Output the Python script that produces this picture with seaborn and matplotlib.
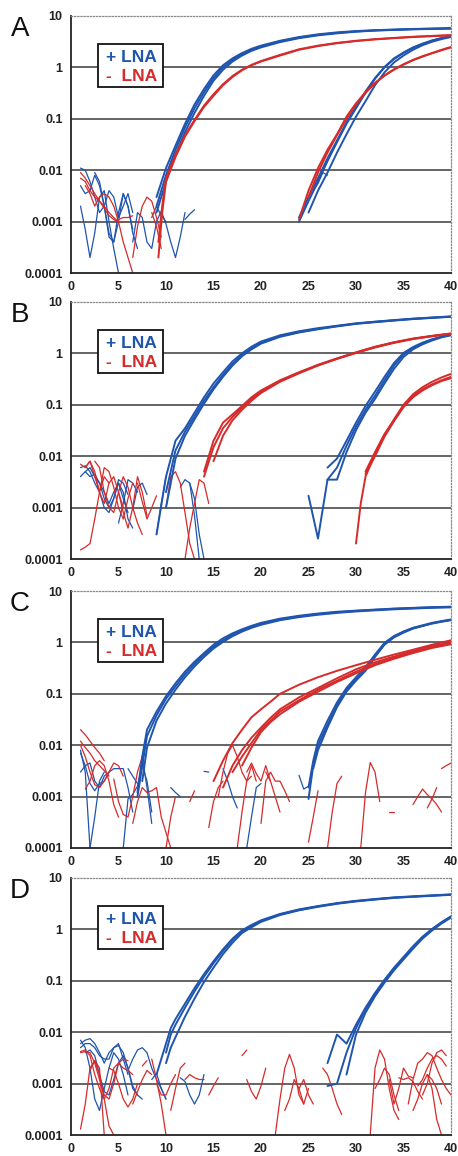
"""Four-panel qPCR amplification plot: + LNA (blue) vs - LNA (red)."""

import matplotlib

matplotlib.use("Agg")
import matplotlib.pyplot as plt
import matplotlib.ticker as mticker
import pandas as pd
import seaborn as sns
from matplotlib.patches import Rectangle

BLUE = "#1f55ae"
RED = "#d52b2b"
NOISE_STEP = 0.5

PANELS = ["A", "B", "C", "D"]
X_TICKS = [0, 5, 10, 15, 20, 25, 30, 35, 40]
Y_TICKS = [0.0001, 0.001, 0.01, 0.1, 1, 10]
Y_LABELS = ["0.0001", "0.001", "0.01", "0.1", "1", "10"]
GRID_LEVELS = [0.001, 0.01, 0.1, 1]
LEGEND_PLUS = "+ LNA"
LEGEND_MINUS = "-  LNA"

# ---------------- panel A ----------------
A_BLUE_EARLY_X = [9, 10, 11, 12, 13, 14, 15, 16, 17, 18, 19, 20, 22, 24, 26, 28, 30, 32, 34, 36, 38, 40]
A_BLUE_EARLY = [
    [0.003, 0.011, 0.03, 0.08, 0.19, 0.38, 0.7, 1.1, 1.5, 1.9, 2.3, 2.65, 3.3, 3.9, 4.4, 4.8, 5.1, 5.3, 5.45, 5.6, 5.7, 5.8],
    [0.002, 0.008, 0.025, 0.068, 0.16, 0.33, 0.62, 1.0, 1.4, 1.8, 2.2, 2.55, 3.2, 3.8, 4.3, 4.7, 5.0, 5.25, 5.4, 5.55, 5.65, 5.75],
    [0.0015, 0.006, 0.02, 0.055, 0.13, 0.28, 0.55, 0.9, 1.3, 1.7, 2.1, 2.45, 3.1, 3.7, 4.2, 4.6, 4.95, 5.2, 5.35, 5.5, 5.6, 5.7],
]
A_RED_EARLY_X = [9.2, 9.6, 10, 11, 12, 13, 14, 15, 16, 17, 18, 19, 20, 22, 24, 26, 28, 30, 32, 34, 36, 38, 40]
A_RED_EARLY = [
    [0.0002, 0.0015, 0.006, 0.018, 0.045, 0.09, 0.17, 0.28, 0.45, 0.65, 0.88, 1.1, 1.3, 1.7, 2.2, 2.6, 2.95, 3.25, 3.5, 3.7, 3.9, 4.05, 4.2],
    [0.0004, 0.002, 0.007, 0.02, 0.048, 0.095, 0.18, 0.3, 0.47, 0.68, 0.9, 1.12, 1.33, 1.75, 2.25, 2.65, 3.0, 3.3, 3.55, 3.75, 3.95, 4.1, 4.25],
]
A_LATE_X = [24, 25, 26, 27, 28, 29, 30, 31, 32, 33, 34, 35, 36, 37, 38, 39, 40]
A_BLUE_LATE = [
    [0.001, 0.0025, 0.006, 0.015, 0.035, 0.08, 0.16, 0.32, 0.6, 1.0, 1.45, 1.9, 2.4, 2.85, 3.3, 3.7, 4.0],
    [0.0012, 0.003, 0.007, 0.017, 0.038, 0.085, 0.17, 0.34, 0.62, 1.02, 1.5, 1.95, 2.45, 2.9, 3.35, 3.72, 4.05],
    [None, 0.0015, 0.004, 0.009, 0.022, 0.05, 0.11, 0.22, 0.45, 0.8, 1.25, 1.7, 2.2, 2.7, 3.15, 3.55, 3.9],
]
A_RED_LATE = [
    [0.0011, 0.004, 0.011, 0.025, 0.05, 0.11, 0.2, 0.33, 0.5, 0.7, 0.92, 1.15, 1.4, 1.65, 1.9, 2.2, 2.5],
    [None, 0.003, 0.009, 0.022, 0.048, 0.1, 0.19, 0.32, 0.49, 0.69, 0.9, 1.13, 1.38, 1.62, 1.88, 2.15, 2.45],
]
A_BLUE_NOISE = [
    (1.0, [0.002, 0.0007, 0.0002, 0.0006, 0.003, 0.004, 0.001, 0.0003, 0.0001]),
    (1.0, [0.011, 0.01, 0.006, 0.003, 0.0015, 0.002, 0.004, 0.003, 0.0012, 0.002, 0.0035, 0.0015]),
    (1.0, [0.005, 0.0035, 0.004, 0.008, 0.005, 0.002, 0.0006, 0.0004, 0.001, 0.0035, 0.002, 0.0006, 0.0003]),
    (2.5, [0.009, 0.006, 0.002, 0.0005, 0.0004, 0.0015, 0.0035, 0.002, 0.0007]),
    (6.5, [0.0004, 0.0015, 0.0012, 0.0004, 0.0003, 0.001, 0.0016, 0.0009, 0.0004, 0.0002, 0.0005, 0.0015]),
    (8.5, [0.0012, 0.002, 0.0013, 0.001]),
    (12.0, [0.0011, 0.0014, 0.0017]),
    (25.5, [0.004, 0.0055, 0.009, 0.008]),
]
A_RED_NOISE = [
    (1.0, [0.009, 0.007, 0.005, 0.0035, 0.0025, 0.0018, 0.0013, 0.0011, 0.001, 0.001, 0.001]),
    (1.0, [0.007, 0.006, 0.004, 0.003, 0.0025, 0.002, 0.0015, 0.0012, 0.001]),
    (1.5, [0.005, 0.0035, 0.002, 0.003, 0.0035, 0.003, 0.002, 0.001, 0.0004, 0.0002, 0.0001]),
    (4.5, [0.001, 0.0011, 0.0012, 0.0012, 0.0013]),
    (6.5, [0.0002, 0.0008, 0.002, 0.003, 0.0025, 0.0012, 0.0005]),
    (8.5, [0.0015, 0.0008, 0.0003]),
]

# ---------------- panel B ----------------
B_BLUE_EARLY_X = [9, 10, 11, 12, 13, 14, 15, 16, 17, 18, 19, 20, 22, 24, 26, 28, 30, 32, 34, 36, 38, 40]
B_BLUE_EARLY = [
    [0.0003, 0.004, 0.02, 0.035, 0.07, 0.14, 0.26, 0.43, 0.7, 1.0, 1.35, 1.7, 2.25, 2.7, 3.1, 3.45, 3.85, 4.15, 4.45, 4.75, 5.0, 5.25],
    [None, 0.002, 0.013, 0.03, 0.06, 0.12, 0.22, 0.38, 0.62, 0.92, 1.25, 1.6, 2.15, 2.6, 3.0, 3.4, 3.8, 4.1, 4.4, 4.7, 4.95, 5.2],
    [None, 0.001, 0.009, 0.025, 0.052, 0.105, 0.2, 0.35, 0.58, 0.88, 1.2, 1.55, 2.1, 2.55, 2.95, 3.35, 3.75, 4.05, 4.35, 4.65, 4.9, 5.15],
]
B_RED_EARLY_X = [14, 15, 16, 17, 18, 19, 20, 22, 24, 26, 28, 30, 32, 34, 36, 38, 40]
B_RED_EARLY = [
    [0.005, 0.02, 0.045, 0.065, 0.095, 0.14, 0.19, 0.3, 0.43, 0.6, 0.8, 1.05, 1.35, 1.65, 1.95, 2.2, 2.45],
    [0.004, 0.015, 0.035, 0.058, 0.088, 0.13, 0.18, 0.29, 0.42, 0.59, 0.79, 1.03, 1.33, 1.63, 1.92, 2.18, 2.42],
    [None, 0.008, 0.025, 0.05, 0.08, 0.12, 0.17, 0.28, 0.41, 0.58, 0.78, 1.02, 1.3, 1.6, 1.9, 2.15, 2.4],
]
B_BLUE_LATE_X = [25, 26, 27, 28, 29, 30, 31, 32, 33, 34, 35, 36, 37, 38, 39, 40]
B_BLUE_LATE = [
    [0.0017, 0.00025, 0.0035, 0.006, 0.016, 0.038, 0.08, 0.15, 0.3, 0.58, 0.95, 1.28, 1.58, 1.85, 2.1, 2.3],
    [None, None, 0.006, 0.009, 0.02, 0.045, 0.095, 0.18, 0.35, 0.65, 1.02, 1.33, 1.62, 1.88, 2.12, 2.32],
    [None, None, 0.0035, 0.0035, 0.012, 0.032, 0.07, 0.13, 0.26, 0.5, 0.85, 1.2, 1.5, 1.78, 2.05, 2.25],
]
B_RED_LATE_X = [30, 30.5, 31, 32, 33, 34, 35, 36, 37, 38, 39, 40]
B_RED_LATE = [
    [0.0002, 0.0012, 0.004, 0.011, 0.026, 0.052, 0.1, 0.16, 0.22, 0.28, 0.34, 0.4],
    [None, None, 0.005, 0.012, 0.027, 0.05, 0.095, 0.15, 0.2, 0.25, 0.3, 0.35],
    [None, None, 0.0045, 0.01, 0.024, 0.048, 0.09, 0.14, 0.19, 0.24, 0.29, 0.33],
]
B_BLUE_NOISE = [
    (1.0, [0.004, 0.005, 0.006, 0.004, 0.003, 0.0015, 0.001, 0.0015, 0.003, 0.002, 0.0006, 0.0004]),
    (1.0, [0.006, 0.0065, 0.005, 0.003, 0.002, 0.001, 0.0008, 0.0015, 0.0035, 0.003, 0.0018]),
    (1.5, [0.005, 0.004, 0.0045, 0.003, 0.002, 0.0012, 0.002, 0.003, 0.0015, 0.0008]),
    (5.0, [0.0005, 0.0012, 0.0035, 0.003, 0.002]),
    (6.5, [0.0009, 0.0025, 0.003, 0.0018]),
    (9.0, [0.0003, 0.0012, 0.004]),
    (11.5, [0.0025, 0.0035, 0.003, 0.0007, 0.0001]),
    (12.5, [0.003, 0.0015, 0.0003, 0.0001]),
]
B_RED_NOISE = [
    (1.0, [0.00015, 0.00017, 0.0002, 0.0006, 0.002, 0.004, 0.003]),
    (1.0, [0.007, 0.006, 0.008, 0.005, 0.002, 0.0012, 0.003, 0.004, 0.002, 0.001]),
    (1.5, [0.006, 0.008, 0.004, 0.002, 0.006, 0.005, 0.0025, 0.001, 0.0006, 0.0015, 0.003]),
    (2.5, [0.008, 0.006, 0.002, 0.001, 0.0008, 0.002, 0.004, 0.0025, 0.001, 0.0005, 0.0003]),
    (5.0, [0.002, 0.0008, 0.0004, 0.001, 0.004, 0.002, 0.0007]),
    (7.0, [0.003, 0.0013, 0.0006, 0.001, 0.0017]),
    (10.0, [0.001, 0.004, 0.005, 0.003, 0.0008, 0.0002, 0.0001]),
    (12.0, [0.0001, 0.0004, 0.0012, 0.0035, 0.003, 0.0012]),
]

# ---------------- panel C ----------------
C_BLUE_EARLY_X = [7, 7.5, 8, 9, 10, 11, 12, 13, 14, 15, 16, 17, 18, 19, 20, 22, 24, 26, 28, 30, 32, 34, 36, 38, 40]
C_BLUE_EARLY = [
    [0.0012, 0.006, 0.02, 0.045, 0.09, 0.16, 0.27, 0.42, 0.62, 0.9, 1.2, 1.5, 1.8, 2.1, 2.4, 2.9, 3.3, 3.65, 3.95, 4.15, 4.35, 4.55, 4.7, 4.85, 4.95],
    [0.001, 0.004, 0.015, 0.038, 0.08, 0.14, 0.24, 0.38, 0.57, 0.83, 1.1, 1.4, 1.7, 2.0, 2.3, 2.8, 3.2, 3.55, 3.85, 4.1, 4.3, 4.5, 4.65, 4.8, 4.9],
    [None, 0.002, 0.009, 0.03, 0.065, 0.12, 0.21, 0.34, 0.52, 0.76, 1.02, 1.32, 1.62, 1.92, 2.2, 2.7, 3.1, 3.45, 3.75, 4.0, 4.2, 4.4, 4.55, 4.7, 4.8],
]
C_RED_EARLY_X = [15, 16, 17, 18, 19, 20, 21, 22, 24, 26, 28, 30, 32, 34, 36, 38, 40]
C_RED_EARLY = [
    [0.002, 0.005, 0.011, 0.02, 0.035, 0.05, 0.07, 0.1, 0.15, 0.21, 0.28, 0.36, 0.46, 0.58, 0.72, 0.9, 1.1],
    [None, 0.0015, 0.004, 0.008, 0.014, 0.022, 0.034, 0.05, 0.085, 0.13, 0.2, 0.3, 0.41, 0.53, 0.68, 0.85, 1.0],
    [None, None, 0.003, 0.006, 0.011, 0.02, 0.03, 0.045, 0.075, 0.12, 0.18, 0.27, 0.38, 0.5, 0.65, 0.8, 0.95],
    [None, None, None, 0.004, 0.009, 0.018, 0.028, 0.04, 0.07, 0.11, 0.17, 0.25, 0.36, 0.48, 0.62, 0.78, 0.92],
]
C_BLUE_LATE_X = [25, 25.5, 26, 27, 28, 29, 30, 31, 32, 33, 34, 35, 36, 37, 38, 39, 40]
C_BLUE_LATE = [
    [0.0009, 0.004, 0.01, 0.025, 0.06, 0.12, 0.19, 0.3, 0.55, 0.95, 1.3, 1.6, 1.9, 2.1, 2.35, 2.55, 2.75],
    [0.0015, 0.005, 0.012, 0.03, 0.068, 0.13, 0.21, 0.33, 0.58, 0.98, 1.33, 1.63, 1.92, 2.15, 2.4, 2.6, 2.8],
    [None, 0.0035, 0.008, 0.022, 0.055, 0.11, 0.18, 0.28, 0.52, 0.9, 1.25, 1.55, 1.85, 2.08, 2.32, 2.52, 2.7],
]
C_BLUE_NOISE = [
    (1.0, [0.008, 0.003, 0.0001]),
    (1.0, [0.007, 0.004, 0.0018, 0.0013, 0.0018, 0.002, 0.003, 0.0035, 0.0035, 0.0035, 0.0015, 0.0005]),
    (1.0, [0.003, 0.004, 0.0045, 0.002, 0.0015, 0.0025, 0.003]),
    (2.0, [0.0001, 0.0004, 0.002, 0.003]),
    (5.5, [0.0001, 0.0009, 0.0011, 0.0016, 0.004, 0.002, 0.0005]),
    (6.0, [0.0035, 0.0025, 0.0018]),
    (7.5, [0.006, 0.0015, 0.0003]),
    (10.5, [0.0015, 0.0012, 0.001]),
    (14.0, [0.0031, 0.003]),
    (16.0, [0.0035, 0.002, 0.001, 0.0006]),
    (18.5, [0.0001, 0.0004, 0.0015, 0.0018]),
    (24.0, [0.0026, 0.0014, 0.0016]),
]
C_RED_NOISE = [
    (1.0, [0.02, 0.016, 0.012, 0.009, 0.007, 0.005]),
    (1.0, [0.012, 0.009, 0.007, 0.005, 0.004, 0.0032, 0.0025]),
    (1.0, [0.01, 0.006, 0.003, 0.0017, 0.0015, 0.002, 0.003, 0.0045, 0.004, 0.0025]),
    (1.5, [0.0014, 0.002, 0.004, 0.005, 0.004, 0.002, 0.0007, 0.0004]),
    (4.5, [0.0022, 0.0008, 0.00045, 0.0004, 0.001, 0.003, 0.006]),
    (6.5, [0.0003, 0.0008, 0.0015, 0.0012, 0.0013, 0.0015, 0.0004, 0.0002, 0.0001]),
    (10.0, [0.0001, 0.0004, 0.001]),
    (12.5, [0.0008, 0.0013]),
    (14.5, [0.00025, 0.0008, 0.0015, 0.002]),
    (15.5, [0.001, 0.003, 0.007, 0.01, 0.006, 0.003, 0.002, 0.004, 0.002]),
    (17.5, [0.0001, 0.0005, 0.002, 0.0025]),
    (18.5, [0.003, 0.0045, 0.0028, 0.002, 0.004, 0.002]),
    (20.0, [0.0003, 0.002, 0.003, 0.002, 0.002, 0.0013, 0.0008]),
    (20.5, [0.003, 0.002, 0.001, 0.0005]),
    (25.0, [0.00013, 0.0004, 0.0013]),
    (27.0, [0.0001, 0.0005, 0.0018, 0.0025]),
    (30.5, [0.0001, 0.0012, 0.0046, 0.003, 0.0008]),
    (33.5, [0.0005, 0.0005]),
    (36.0, [0.0007, 0.001, 0.0014, 0.0011, 0.0009, 0.0007, 0.0005]),
    (37.5, [0.0006, 0.0009, 0.0015]),
    (39.0, [0.0035, 0.004, 0.0045]),
]

# ---------------- panel D ----------------
D_BLUE_EARLY_X = [9, 10, 10.5, 11, 12, 13, 14, 15, 16, 17, 18, 19, 20, 22, 24, 26, 28, 30, 32, 34, 36, 38, 40]
D_BLUE_EARLY = [
    [0.0015, 0.006, 0.012, 0.018, 0.036, 0.072, 0.135, 0.24, 0.41, 0.66, 0.96, 1.22, 1.5, 2.0, 2.45, 2.85, 3.25, 3.6, 3.9, 4.2, 4.4, 4.6, 4.8],
    [None, 0.004, 0.009, 0.014, 0.03, 0.062, 0.12, 0.22, 0.38, 0.62, 0.92, 1.18, 1.46, 1.96, 2.4, 2.8, 3.2, 3.55, 3.85, 4.15, 4.35, 4.55, 4.75],
    [None, 0.0025, 0.005, 0.008, 0.02, 0.045, 0.095, 0.18, 0.33, 0.55, 0.85, 1.1, 1.4, 1.9, 2.35, 2.75, 3.15, 3.5, 3.8, 4.1, 4.3, 4.5, 4.7],
]
D_BLUE_LATE_X = [27, 28, 29, 30, 31, 32, 33, 34, 35, 36, 37, 38, 39, 40]
D_BLUE_LATE = [
    [0.0009, 0.001, 0.004, 0.012, 0.028, 0.055, 0.1, 0.17, 0.28, 0.45, 0.7, 1.0, 1.35, 1.75],
    [None, None, 0.0015, 0.009, 0.024, 0.05, 0.092, 0.16, 0.26, 0.42, 0.66, 0.95, 1.3, 1.7],
    [0.0025, 0.009, 0.006, 0.014, 0.03, 0.058, 0.105, 0.18, 0.29, 0.47, 0.72, 1.02, 1.38, 1.8],
]
D_BLUE_NOISE = [
    (1.0, [0.007, 0.005, 0.002, 0.0005, 0.0003, 0.0008, 0.002, 0.004, 0.003, 0.0015, 0.0006]),
    (1.0, [0.006, 0.007, 0.0075, 0.006, 0.004, 0.0025, 0.004, 0.005, 0.0055, 0.004, 0.002, 0.0008, 0.0006]),
    (1.0, [0.005, 0.006, 0.006, 0.005, 0.0035, 0.003, 0.003, 0.005, 0.006, 0.003, 0.0015]),
    (1.5, [0.004, 0.0045, 0.0035, 0.0015, 0.0007, 0.0006, 0.0012, 0.0025, 0.0035, 0.002, 0.0009, 0.0006, 0.0005]),
    (6.0, [0.0018, 0.003, 0.0045, 0.005, 0.004, 0.002, 0.0012, 0.0008, 0.0005]),
    (8.5, [0.0012, 0.0016, 0.0008, 0.0005]),
    (11.5, [0.0013, 0.0011, 0.0006, 0.0004, 0.0006, 0.0015]),
]
D_RED_NOISE = [
    (1.0, [0.00013, 0.0004, 0.002, 0.0028, 0.0015, 0.0005, 0.00015, 0.0001]),
    (1.0, [0.004, 0.0042, 0.004, 0.0025, 0.0012, 0.0006, 0.0005, 0.001, 0.0025, 0.003, 0.0028]),
    (1.0, [0.0042, 0.0045, 0.0035, 0.0015, 0.0008, 0.0005, 0.0008, 0.002, 0.0025, 0.002, 0.0018, 0.0015]),
    (2.0, [0.0018, 0.0028, 0.002, 0.0001]),
    (4.0, [0.002, 0.0018, 0.001, 0.0005, 0.00035, 0.0005, 0.001]),
    (6.5, [0.0004, 0.0007, 0.0012, 0.0018, 0.0015]),
    (7.5, [0.0022, 0.0028]),
    (8.5, [0.003, 0.0012, 0.0004, 0.0001]),
    (9.0, [0.001, 0.0006, 0.0006, 0.001, 0.0015]),
    (10.5, [0.0003, 0.0008, 0.002, 0.0025]),
    (12.0, [0.0012, 0.0015, 0.0013, 0.0012, 0.0012]),
    (14.5, [0.0006, 0.0009, 0.0013]),
    (18.0, [0.0035, 0.0045]),
    (18.5, [0.0012, 0.0007, 0.0005, 0.0009, 0.002]),
    (21.5, [0.0001, 0.0005, 0.002, 0.0037, 0.002, 0.0006, 0.0004, 0.0008]),
    (22.5, [0.0003, 0.0005, 0.0012, 0.0008, 0.0004]),
    (24.0, [0.0008, 0.0012, 0.0006, 0.0004]),
    (26.5, [0.002, 0.0015, 0.0008, 0.0004, 0.00025]),
    (31.5, [0.0001, 0.002, 0.0045, 0.003, 0.0008, 0.0003, 0.0002]),
    (32.0, [0.0008, 0.0012, 0.002, 0.0015, 0.0006, 0.0003]),
    (33.5, [0.0012, 0.0004, 0.0008, 0.002, 0.0014, 0.0013]),
    (34.5, [0.0013, 0.0012, 0.0013, 0.0011, 0.0007, 0.0005]),
    (35.5, [0.0004, 0.0012, 0.0025, 0.003, 0.004, 0.0035, 0.002, 0.0012, 0.0008, 0.0006]),
    (36.5, [0.0009, 0.0012, 0.002, 0.003, 0.0035, 0.003, 0.0022]),
    (37.0, [0.0006, 0.001, 0.0025, 0.004, 0.0045, 0.0035]),
    (37.5, [0.0015, 0.0008, 0.0002, 0.0001]),
    (36.0, [0.0003, 0.0005, 0.001, 0.0015, 0.0012, 0.0008, 0.0004]),
]

MAIN_CURVES = {
    "A": [("+", A_BLUE_EARLY_X, A_BLUE_EARLY), ("-", A_RED_EARLY_X, A_RED_EARLY),
          ("+", A_LATE_X, A_BLUE_LATE), ("-", A_LATE_X, A_RED_LATE)],
    "B": [("+", B_BLUE_EARLY_X, B_BLUE_EARLY), ("-", B_RED_EARLY_X, B_RED_EARLY),
          ("+", B_BLUE_LATE_X, B_BLUE_LATE), ("-", B_RED_LATE_X, B_RED_LATE)],
    "C": [("+", C_BLUE_EARLY_X, C_BLUE_EARLY), ("-", C_RED_EARLY_X, C_RED_EARLY),
          ("+", C_BLUE_LATE_X, C_BLUE_LATE)],
    "D": [("+", D_BLUE_EARLY_X, D_BLUE_EARLY), ("+", D_BLUE_LATE_X, D_BLUE_LATE)],
}
NOISE = {
    "A": [("+", A_BLUE_NOISE), ("-", A_RED_NOISE)],
    "B": [("+", B_BLUE_NOISE), ("-", B_RED_NOISE)],
    "C": [("+", C_BLUE_NOISE), ("-", C_RED_NOISE)],
    "D": [("+", D_BLUE_NOISE), ("-", D_RED_NOISE)],
}


def build_frame() -> pd.DataFrame:
    rows = []
    for panel in PANELS:
        for k, (group, xs, curves) in enumerate(MAIN_CURVES[panel]):
            for i, ys in enumerate(curves):
                for x, y in zip(xs, ys):
                    if y is None:
                        continue
                    rows.append({"panel": panel, "kind": "main", "group": group,
                                 "unit": f"{panel}m{k}-{i}", "cycle": x, "value": y})
        for k, (group, fragments) in enumerate(NOISE[panel]):
            for i, (start, ys) in enumerate(fragments):
                for j, y in enumerate(ys):
                    rows.append({"panel": panel, "kind": "noise", "group": group,
                                 "unit": f"{panel}n{k}-{i}", "cycle": start + NOISE_STEP * j,
                                 "value": y})
    return pd.DataFrame(rows)


def style_axis(axis, letter):
    axis.set_yscale("log")
    axis.set_xlim(0, 40)
    axis.set_ylim(Y_TICKS[0], Y_TICKS[-1])
    axis.yaxis.set_major_locator(mticker.FixedLocator(Y_TICKS))
    axis.yaxis.set_major_formatter(mticker.FixedFormatter(Y_LABELS))
    axis.yaxis.set_minor_locator(mticker.NullLocator())
    axis.set_xticks(X_TICKS)
    axis.set_xlabel("")
    axis.set_ylabel("")
    for level in GRID_LEVELS:
        axis.axhline(level, color="#3a3a3a", linewidth=1.1, zorder=0.5)
    for side in ["top", "right"]:
        axis.spines[side].set_linestyle((0, (1, 1.5)))
        axis.spines[side].set_color("#8a8a8a")
        axis.spines[side].set_linewidth(0.9)
    for side in ["left", "bottom"]:
        axis.spines[side].set_color("#222222")
        axis.spines[side].set_linewidth(1.3)
    axis.tick_params(direction="out", length=4, width=1.1, labelsize=9,
                     colors="#222222", pad=2)
    for label in axis.get_xticklabels() + axis.get_yticklabels():
        label.set_fontweight("bold")

    axis.add_patch(Rectangle((0.071, 0.722), 0.171, 0.17, transform=axis.transAxes,
                             facecolor="white", edgecolor="#111111", linewidth=1.3,
                             zorder=5))
    axis.text(0.092, 0.838, LEGEND_PLUS, transform=axis.transAxes, color=BLUE,
              fontsize=12.5, fontweight="bold", va="center", ha="left", zorder=6)
    axis.text(0.092, 0.765, LEGEND_MINUS, transform=axis.transAxes, color=RED,
              fontsize=12.5, fontweight="bold", va="center", ha="left", zorder=6)
    axis.text(-0.134, 0.95, letter, transform=axis.transAxes, fontsize=20,
              va="center", ha="center", color="#111111")


def main() -> None:
    sns.set_theme(style="white")
    plt.rcParams["font.family"] = ["Liberation Sans", "DejaVu Sans"]
    frame = build_frame()
    palette = {"+": BLUE, "-": RED}

    fig = plt.figure(figsize=(4.58, 11.56), dpi=100)
    tops = [16, 302, 591, 878]
    for panel, top in zip(PANELS, tops):
        axis = fig.add_axes([71 / 458, 1 - (top + 257) / 1156, 380 / 458, 257 / 1156])
        sub = frame[frame["panel"] == panel]
        for kind, width in [("noise", 0.9), ("main", 1.4)]:
            part = sub[sub["kind"] == kind]
            sns.lineplot(data=part, x="cycle", y="value", hue="group", units="unit",
                         estimator=None, sort=False, palette=palette,
                         hue_order=["+", "-"], linewidth=width, legend=False,
                         ax=axis, zorder=2)
        style_axis(axis, panel)

    fig.savefig("out.png", dpi=100)
    plt.close(fig)


if __name__ == "__main__":
    main()
